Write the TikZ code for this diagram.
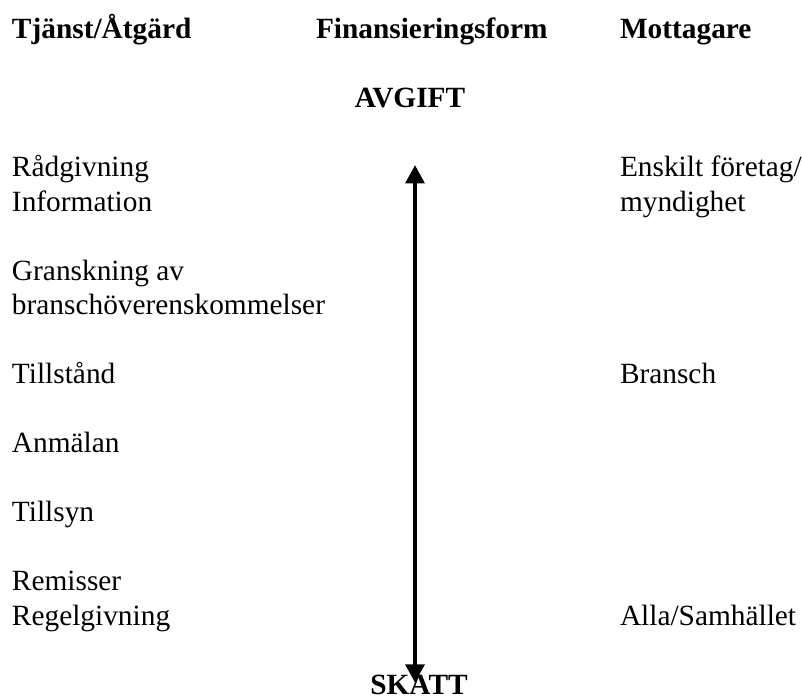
\documentclass[tikz,border=0pt]{standalone}
\usepackage{fontspec}
\setmainfont{Liberation Serif}
\usetikzlibrary{arrows.meta,positioning}

\begin{document}
\begin{tikzpicture}[
    x=0.4088pt, y=-14.1pt,
    every node/.style={inner sep=0pt, outer sep=0pt, font=\fontsize{12}{14}\selectfont},
    head/.style={anchor=base west, font=\fontsize{12}{14}\selectfont\bfseries},
    item/.style={anchor=base west},
    pole/.style={anchor=base, font=\fontsize{12}{14}\selectfont\bfseries},
    arr/.style={{Triangle[length=7.5pt,width=7.5pt]}-{Triangle[length=7.5pt,width=7.5pt]},
                line width=2pt}
]
    \useasboundingbox (0,-5.122) rectangle (802,15.081);

    % column heads
    \node[head] (tjanst) at (12,-4) {Tjänst/Åtgärd};
    \node[head] (finans) at (316,-4) {Finansieringsform};
    \node[head] (mottag) at (620,-4) {Mottagare};

    \node[pole] (avgift) at (410,-2) {AVGIFT};
    \node[pole] (skatt) at (419,15) {SKATT};

    % services
    \node[item] (radg) at (12,0) {Rådgivning};
    \node[item] (info) at (12,1) {Information};
    \node[item] (gransk) at (12,3) {Granskning av};
    \node[item] (overens) at (12,4) {branschöverenskommelser};
    \node[item] (tillst) at (12,6) {Tillstånd};
    \node[item] (anmal) at (12,8) {Anmälan};
    \node[item] (tillsyn) at (12,10) {Tillsyn};
    \node[item] (remiss) at (12,12) {Remisser};
    \node[item] (regel) at (12,13) {Regelgivning};

    % receivers
    \node[item] (enskilt) at (620,0) {Enskilt företag/};
    \node[item] (myndig) at (620,1) {myndighet};
    \node[item] (bransch) at (620,6) {Bransch};
    \node[item] (alla) at (620,13) {Alla/Samhället};

    \coordinate (hi) at (415,-0.34);
    \coordinate (lo) at (415,14.675);
    \draw[arr] (lo) -- (hi);
\end{tikzpicture}
\end{document}
